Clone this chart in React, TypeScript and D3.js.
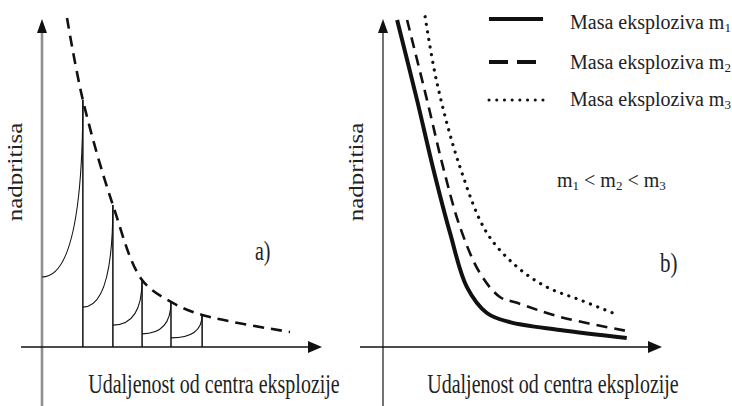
import React from "react";
import * as d3 from "d3";

const width = 732;
const height = 406;

// left panel: peak overpressure envelope (dashed)
const envelopeX = [9, 14.7, 25.5, 36, 46.4, 57.6, 89.2];
const envelopeY = [100.6, 75.5, 43.4, 20.5, 13.8, 9.8, 4.6];

// left panel: pressure pulses between successive peaks
const pulseStart = [0, 14.7, 25.5, 36, 46.4];
const pulseEnd = [14.7, 25.5, 36, 46.4, 57.6];
const pulseBase = [21.4, 12.2, 6.7, 4.0, 2.8];
const pulsePeak = [75.5, 43.4, 20.5, 13.8, 9.8];

// right panel: overpressure vs distance for three charge masses
const m1X = [5.1, 12.3, 18, 24.2, 30.3, 37.5, 45.8, 63.9, 88];
const m1Y = [100, 75.5, 55, 34.9, 18.3, 10.4, 7.6, 5.2, 2.75];
const m2X = [8.7, 15.9, 21.7, 27.8, 35, 42.2, 48.4, 63.9, 88];
const m2Y = [100, 75.5, 55, 36.7, 22.6, 15.3, 13.5, 9.2, 4.9];
const m3X = [15.2, 19.5, 27.8, 37.5, 48.4, 59.2, 71.1, 84.8];
const m3Y = [101, 80.7, 55, 34.9, 24.5, 18.3, 14.4, 9.8];

const legendLabels = ["Masa eksploziva m", "Masa eksploziva m", "Masa eksploziva m"];
const legendSubs = ["1", "2", "3"];
const yLabel = "nadpritisa";
const xLabel = "Udaljenost od centra eksplozije";

const font = "'Liberation Serif', 'Times New Roman', serif";
const ink = "#111";

const yScale = d3.scaleLinear().domain([0, 100]).range([347, 20]);
const xLeft = d3.scaleLinear().domain([0, 100]).range([42, 320]);
const xRight = d3.scaleLinear().domain([0, 100]).range([383, 660]);

const zip = (xs: number[], ys: number[]) => xs.map((x, i) => [x, ys[i]] as [number, number]);

const lineFor = (xs: d3.ScaleLinear<number, number>) =>
  d3
    .line<[number, number]>()
    .x(d => xs(d[0]))
    .y(d => yScale(d[1]))
    .curve(d3.curveCatmullRom.alpha(0.5));

const styles = [
  { strokeWidth: 4, dash: undefined as string | undefined, cap: "butt" },
  { strokeWidth: 2.6, dash: "11 7", cap: "butt" },
  { strokeWidth: 3.2, dash: "0.1 7.6", cap: "round" }
];

const App = () => {
  const envelope = lineFor(xLeft)(zip(envelopeX, envelopeY)) || "";

  const pulses = pulseStart.map((s, i) => {
    const p = d3.path();
    p.moveTo(xLeft(s), yScale(pulseBase[i]));
    p.quadraticCurveTo(xLeft(pulseEnd[i]), yScale(pulseBase[i]), xLeft(pulseEnd[i]), yScale(pulsePeak[i]));
    return p.toString();
  });

  const series = [zip(m1X, m1Y), zip(m2X, m2Y), zip(m3X, m3Y)].map(d => lineFor(xRight)(d) || "");

  const legendY = [19, 62, 100];
  const legendTextY = [29, 69, 106];

  return (
    <svg width={width} height={height} style={{ position: "absolute", left: 0, top: 0, background: "#fff" }}>
      <defs>
        <clipPath id="clipL">
          <rect x={0} y={0} width={23} height={height} />
        </clipPath>
        <clipPath id="clipR">
          <rect x={340} y={0} width={24} height={height} />
        </clipPath>
      </defs>

      {/* ---- left panel ---- */}
      <line x1={42} x2={42} y1={30} y2={height} stroke="#8f8f8f" strokeWidth={2.6} />
      <path d="M42,19 L37,33 L47,33 Z" fill={ink} />
      <line x1={21} x2={312} y1={347} y2={347} stroke={ink} strokeWidth={1.5} />
      <path d="M322,347 L308,341 L308,353 Z" fill={ink} />

      {pulses.map((d, i) => (
        <path key={i} d={d} fill="none" stroke={ink} strokeWidth={1.1} />
      ))}
      {pulseEnd.map((x, i) => (
        <line key={i} x1={xLeft(x)} x2={xLeft(x)} y1={yScale(0)} y2={yScale(pulsePeak[i])} stroke={ink} strokeWidth={1.5} />
      ))}
      <path d={envelope} fill="none" stroke={ink} strokeWidth={2.6} strokeDasharray="11 7" />

      <g clipPath="url(#clipL)">
        <text transform="translate(22,172) scale(1,1.25) rotate(-90)" textAnchor="middle" fontFamily={font} fontSize={20} fill="#222">
          {yLabel}
        </text>
      </g>
      <text transform="translate(255,260) scale(1,1.35)" fontFamily={font} fontSize={20} fill="#222">
        a)
      </text>
      <text transform="translate(214,393) scale(1,1.35)" textAnchor="middle" fontFamily={font} fontSize={20} fill="#222">
        {xLabel}
      </text>

      {/* ---- right panel ---- */}
      <line x1={383} x2={383} y1={30} y2={height} stroke="#444" strokeWidth={1.5} />
      <path d="M383,19 L378,33 L388,33 Z" fill={ink} />
      <line x1={360} x2={652} y1={347} y2={347} stroke={ink} strokeWidth={1.5} />
      <path d="M662,347 L648,341 L648,353 Z" fill={ink} />

      {series.map((d, i) => (
        <path
          key={i}
          d={d}
          fill="none"
          stroke={ink}
          strokeWidth={styles[i].strokeWidth}
          strokeDasharray={styles[i].dash}
          strokeLinecap={styles[i].cap as any}
        />
      ))}

      {legendLabels.map((t, i) => (
        <g key={i}>
          <line
            x1={489}
            x2={543}
            y1={legendY[i]}
            y2={legendY[i]}
            stroke={ink}
            strokeWidth={i === 0 ? 4 : i === 1 ? 4 : 3}
            strokeDasharray={i === 1 ? "19 9" : i === 2 ? "0.1 7.6" : undefined}
            strokeLinecap={i === 2 ? "round" : "butt"}
          />
          <text x={570} y={legendTextY[i]} fontFamily={font} fontSize={20} fill="#222">
            {t}
            <tspan fontSize={13} dy={3}>
              {legendSubs[i]}
            </tspan>
          </text>
        </g>
      ))}

      <text x={557} y={187} fontFamily={font} fontSize={20} fill="#222">
        m<tspan fontSize={13} dy={3}>1</tspan>
        <tspan dy={-3}> &lt; m</tspan>
        <tspan fontSize={13} dy={3}>2</tspan>
        <tspan dy={-3}> &lt; m</tspan>
        <tspan fontSize={13} dy={3}>3</tspan>
      </text>

      <g clipPath="url(#clipR)">
        <text transform="translate(363,172) scale(1,1.25) rotate(-90)" textAnchor="middle" fontFamily={font} fontSize={20} fill="#222">
          {yLabel}
        </text>
      </g>
      <text transform="translate(660,272) scale(1,1.35)" fontFamily={font} fontSize={21} fill="#222">
        b)
      </text>
      <text transform="translate(553,393) scale(1,1.35)" textAnchor="middle" fontFamily={font} fontSize={20} fill="#222">
        {xLabel}
      </text>
    </svg>
  );
};

export default App;
